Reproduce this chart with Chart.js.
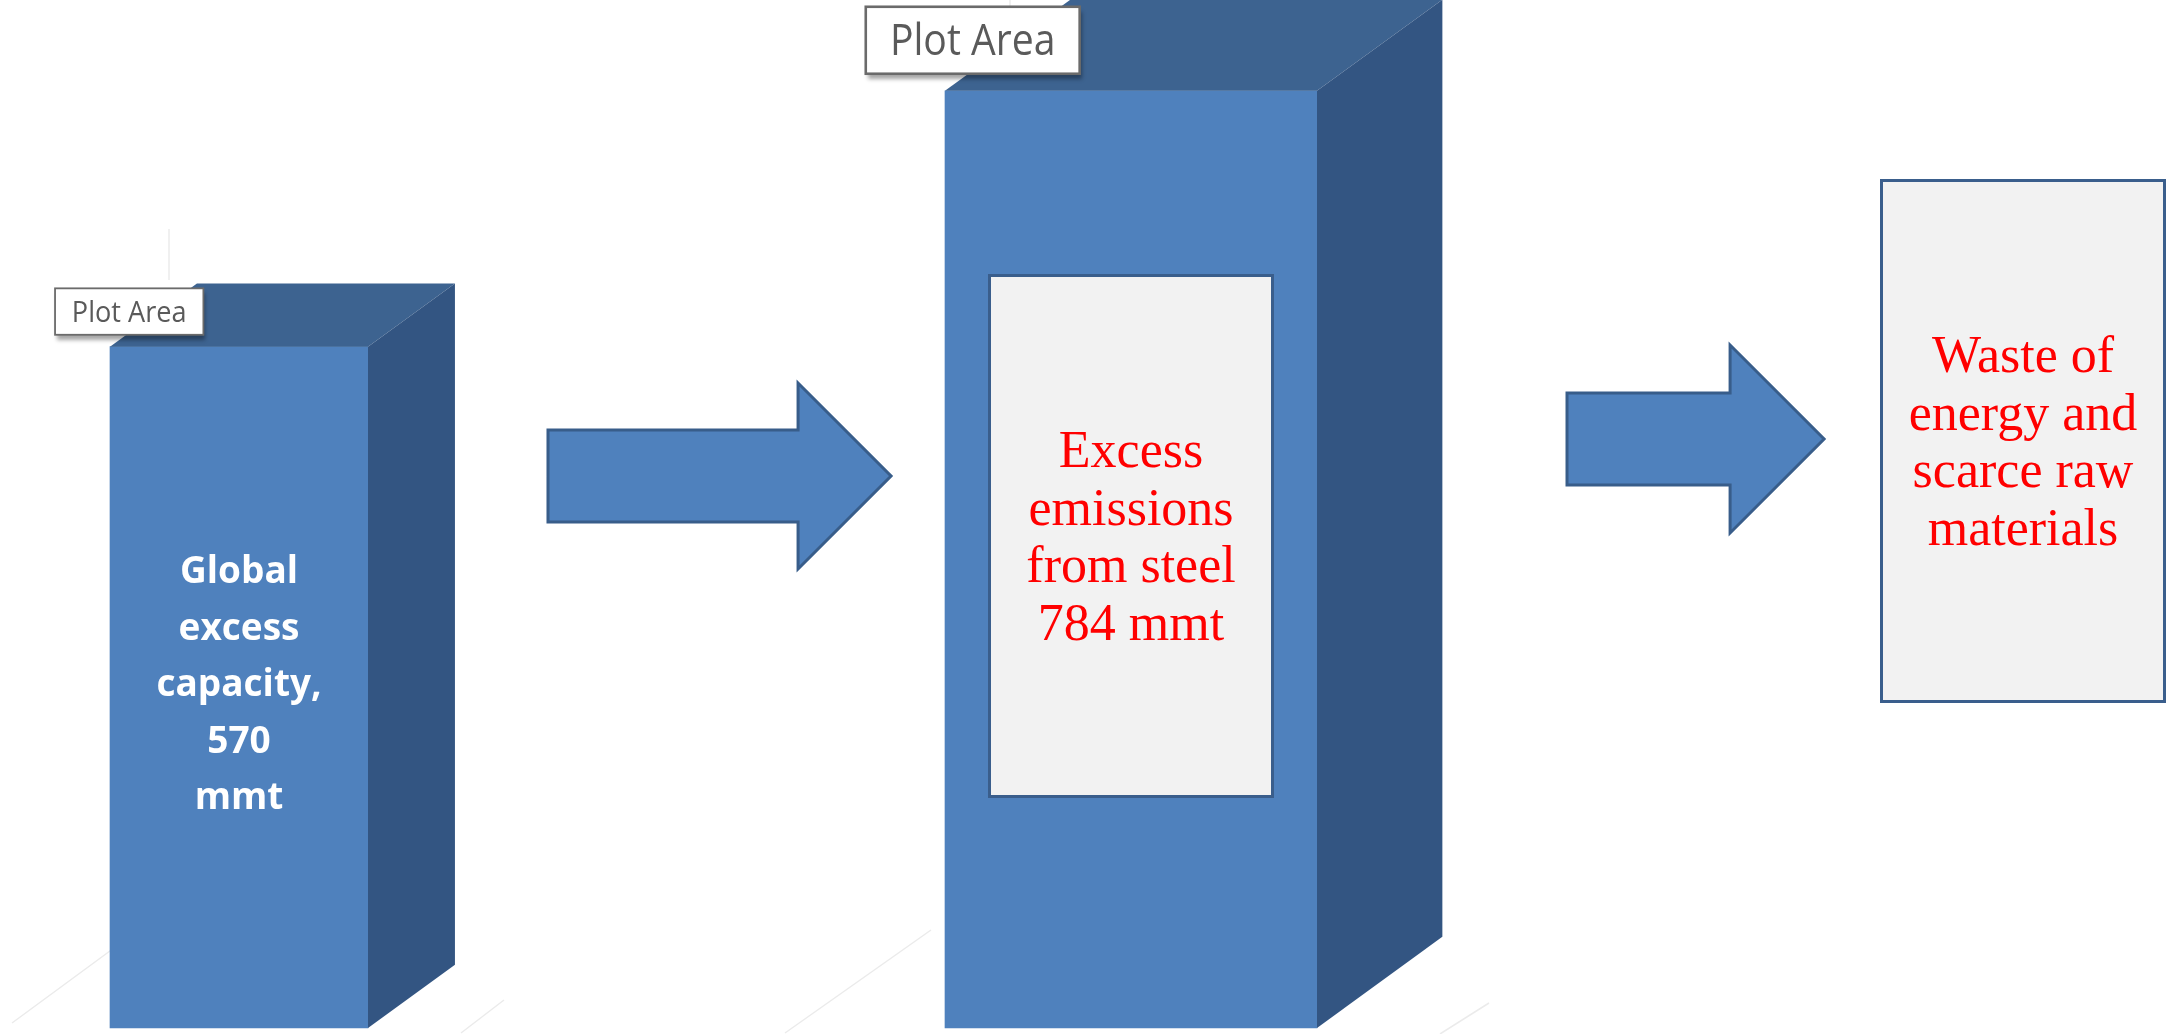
<!DOCTYPE html>
<html>
<head>
<meta charset="utf-8">
<script src="https://cdn.jsdelivr.net/npm/chart.js@4/dist/chart.umd.min.js"></script>
<style>
  html, body { margin: 0; padding: 0; background: #ffffff; }
  #wrap { width: 2175px; height: 1034px; position: relative; }
</style>
</head>
<body>
<div id="wrap"><canvas id="chart"></canvas></div>
<script>
// Stages of the over-capacity chain and their values (million metric tonnes)
const stages = ['Global excess capacity', 'Excess emissions from steel', 'Waste of energy and scarce raw materials'];
const capacityMmt = [570, null, null];
const emissionsMmt = [null, 784, null];

// Text shown on each stage
const capacityLines = ['Global', 'excess', 'capacity,', String(capacityMmt[0]), 'mmt'];
const emissionLines = ['Excess', 'emissions', 'from steel', emissionsMmt[1] + ' mmt'];
const wasteLines = ['Waste of', 'energy and', 'scarce raw', 'materials'];

const FRONT = '#4F81BD';
const TOP = '#3D6390';
const SIDE = '#335582';
const OUTLINE = '#3A5E8C';

function barProps(chart, di) {
  const meta = chart.getDatasetMeta(di);
  const ds = chart.data.datasets[di];
  const out = [];
  meta.data.forEach((bar, i) => {
    if (ds.data[i] == null) return;
    const p = bar.getProps(['x', 'y', 'base', 'width'], true);
    out.push(p);
  });
  return out;
}

// Pseudo-3D depth: top and side faces behind each bar's front face
const depthPlugin = {
  id: 'depth3d',
  beforeDatasetsDraw(chart, args, opts) {
    const ctx = chart.ctx;
    ctx.save();
    ctx.strokeStyle = '#ebebeb';
    ctx.lineWidth = 1.5;
    (opts.floor || []).forEach(s => {
      ctx.beginPath();
      ctx.moveTo(s[0], s[1]);
      ctx.lineTo(s[2], s[3]);
      ctx.stroke();
    });
    ctx.restore();
  },
  afterDatasetsDraw(chart) {
    const ctx = chart.ctx;
    chart.data.datasets.forEach((ds, di) => {
      barProps(chart, di).forEach(({x, y, base, width}) => {
        const x0 = x - width / 2, x1 = x + width / 2;
        const dx = width * 0.337, dy = width * 0.245;
        ctx.save();
        ctx.fillStyle = TOP;
        ctx.beginPath();
        ctx.moveTo(x0, y);
        ctx.lineTo(x1, y);
        ctx.lineTo(x1 + dx, y - dy);
        ctx.lineTo(x0 + dx, y - dy);
        ctx.closePath();
        ctx.fill();
        ctx.fillStyle = SIDE;
        ctx.beginPath();
        ctx.moveTo(x1, y);
        ctx.lineTo(x1 + dx, y - dy);
        ctx.lineTo(x1 + dx, base - dy);
        ctx.lineTo(x1, base);
        ctx.closePath();
        ctx.fill();

        // "Plot Area" tag
        const lw = width * 0.575, lh = width * 0.18;
        const lx = x0 - width * 0.213, ly = y - width * 0.226;
        ctx.shadowColor = 'rgba(0,0,0,0.35)';
        ctx.shadowBlur = 4;
        ctx.shadowOffsetX = 2;
        ctx.shadowOffsetY = 5;
        ctx.fillStyle = '#ffffff';
        ctx.fillRect(lx, ly, lw, lh);
        ctx.shadowColor = 'transparent';
        ctx.strokeStyle = '#6b6b6b';
        ctx.lineWidth = Math.max(1.5, width * 0.007);
        ctx.strokeRect(lx, ly, lw, lh);
        ctx.fillStyle = '#5a5a5a';
        ctx.font = Math.round(width * 0.116) + 'px "Open Sans", sans-serif';
        ctx.textAlign = 'center';
        ctx.textBaseline = 'alphabetic';
        ctx.fillText('Plot Area', lx + lw / 2, ly + lh * 0.72, width * 0.445);
        ctx.restore();
      });
    });

    const xs = chart.scales.x;
    const opts = chart.options.plugins.flow;

    // label on the capacity bar
    const b1 = barProps(chart, 0)[0];
    ctx.save();
    ctx.fillStyle = '#ffffff';
    ctx.font = 'bold 37px "Open Sans", sans-serif';
    ctx.textAlign = 'center';
    ctx.textBaseline = 'alphabetic';
    const c1 = (b1.y + b1.base) / 2 + 9;
    capacityLines.forEach((t, i) => ctx.fillText(t, b1.x, c1 + (i - 2) * 56.5));
    ctx.restore();

    // text boxes
    const drawBox = (cx, cy, lines) => {
      const w = opts.boxWidth, h = opts.boxHeight;
      ctx.save();
      ctx.fillStyle = '#F2F2F2';
      ctx.fillRect(cx - w / 2, cy - h / 2, w, h);
      ctx.strokeStyle = OUTLINE;
      ctx.lineWidth = 3;
      ctx.strokeRect(cx - w / 2, cy - h / 2, w, h);
      ctx.fillStyle = '#FF0000';
      ctx.font = '52px "Liberation Serif", "Times New Roman", serif';
      ctx.textAlign = 'center';
      ctx.textBaseline = 'alphabetic';
      lines.forEach((t, i) => ctx.fillText(t, cx, cy - 69 + i * 57.5));
      ctx.restore();
    };
    const b2 = barProps(chart, 1)[0];
    drawBox(b2.x, opts.emissionBoxY, emissionLines);
    drawBox(xs.getPixelForValue(2), opts.wasteBoxY, wasteLines);

    // block arrows between stages
    opts.arrows.forEach(a => {
      const xl = xs.getPixelForValue(a.from), xt = xs.getPixelForValue(a.to);
      const xh = xt - a.head;
      ctx.save();
      ctx.fillStyle = FRONT;
      ctx.strokeStyle = '#385D8A';
      ctx.lineWidth = 3;
      ctx.lineJoin = 'miter';
      ctx.beginPath();
      ctx.moveTo(xl, a.cy - a.shaft);
      ctx.lineTo(xh, a.cy - a.shaft);
      ctx.lineTo(xh, a.cy - a.spread);
      ctx.lineTo(xt, a.cy);
      ctx.lineTo(xh, a.cy + a.spread);
      ctx.lineTo(xh, a.cy + a.shaft);
      ctx.lineTo(xl, a.cy + a.shaft);
      ctx.closePath();
      ctx.fill();
      ctx.stroke();
      ctx.restore();
    });
  }
};

new Chart(document.getElementById('chart'), {
  type: 'bar',
  data: {
    labels: stages,
    datasets: [
      { label: 'Global excess capacity (mmt)', data: capacityMmt, backgroundColor: FRONT,
        borderWidth: 0, barThickness: 258, grouped: false, clip: false },
      { label: 'Excess emissions from steel (mmt)', data: emissionsMmt, backgroundColor: FRONT,
        borderWidth: 0, barThickness: 372, grouped: false, clip: false }
    ]
  },
  options: {
    responsive: true,
    maintainAspectRatio: false,
    animation: false,
    events: [],
    layout: { padding: { left: 239, right: 152, top: 0, bottom: 6 } },
    scales: {
      x: { display: false, offset: false },
      y: { display: false, min: 0, max: 860 }
    },
    plugins: {
      legend: { display: false },
      tooltip: { enabled: false },
      depth3d: {
        floor: [
          [12, 1023, 114, 948],
          [461, 1033, 504, 1000],
          [785, 1033, 931, 930],
          [1440, 1034, 1489, 1003],
          [169, 229, 169, 280],
          [1010, 0, 1010, 18]
        ]
      },
      flow: {
        boxWidth: 283,
        boxHeight: 521,
        emissionBoxY: 536,
        wasteBoxY: 441,
        arrows: [
          { from: 0.3464, to: 0.731, cy: 476, head: 93, shaft: 46, spread: 93 },
          { from: 1.4888, to: 1.777, cy: 439, head: 94, shaft: 46, spread: 94 }
        ]
      }
    }
  },
  plugins: [depthPlugin]
});
</script>
</body>
</html>
